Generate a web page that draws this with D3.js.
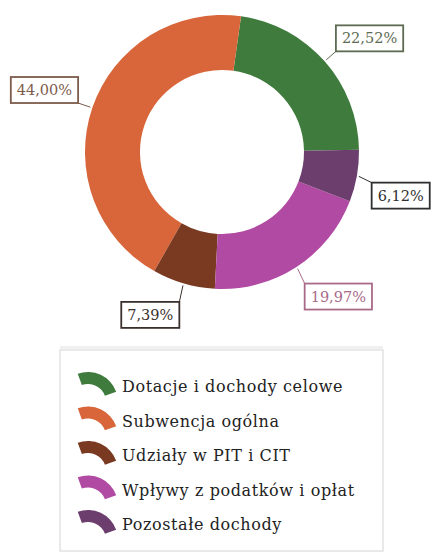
<!DOCTYPE html>
<html><head><meta charset="utf-8">
<script src="https://cdn.jsdelivr.net/npm/d3@7"></script>
<style>
html,body{margin:0;padding:0;background:#fff;}
svg{display:block;}
</style></head>
<body>
<svg id="chart" width="432" height="553"></svg>
<script>
// ---- data ----
const categories = ["Dotacje i dochody celowe","Subwencja ogólna","Udziały w PIT i CIT","Wpływy z podatków i opłat","Pozostałe dochody"];
const values = [22.52, 44.00, 7.39, 19.97, 6.12];
const pieOrder = ["Dotacje i dochody celowe","Pozostałe dochody","Wpływy z podatków i opłat","Udziały w PIT i CIT","Subwencja ogólna"];
const valueLabels = ["22,52%","44,00%","7,39%","19,97%","6,12%"];

// ---- styles ----
const colors = ["#3f7b3d","#d8663a","#7a3a22","#b04aa2","#6c3e6d"];
const labelColors = ["#5d6b52","#7d5c4c","#3a302c","#a86a88","#2f2f2f"];

const svg = d3.select("#chart");
const cx = 222, cy = 152, rOut = 137, rIn = 82;
const offset = 8 * Math.PI / 180;

const data = categories.map((c,i)=>({name:c, value:values[i], color:colors[i], lc:labelColors[i], label:valueLabels[i]}));

const pie = d3.pie().value(d=>d.value)
  .sort((a,b)=>pieOrder.indexOf(a.name)-pieOrder.indexOf(b.name))
  .startAngle(offset).endAngle(offset + 2*Math.PI);
const arcs = pie(data);
const arc = d3.arc().innerRadius(rIn).outerRadius(rOut);

const g = svg.append("g").attr("transform",`translate(${cx},${cy})`);
g.selectAll("path.slice").data(arcs).join("path")
  .attr("class","slice")
  .attr("d",arc)
  .attr("fill",d=>d.data.color);

// labels
const fontLbl = "'DejaVu Serif', 'Liberation Serif', serif";
arcs.forEach(a=>{
  const m = (a.startAngle + a.endAngle)/2;
  const p1 = [Math.sin(m)*(rOut+2), -Math.cos(m)*(rOut+2)];
  const p2 = [Math.sin(m)*(rOut+15), -Math.cos(m)*(rOut+15)];
  const right = Math.sin(m) > 0;
  const upper = Math.cos(m) > 0;
  const lg = g.append("g");
  lg.append("line").attr("x1",p1[0]).attr("y1",p1[1]).attr("x2",p2[0]).attr("y2",p2[1] + (upper?0:4))
    .attr("stroke",a.data.lc).attr("stroke-width",1);
  const t = lg.append("text").text(a.data.label)
    .attr("font-family",fontLbl).attr("font-size",14.5).attr("fill",a.data.lc);
  const w = t.node().getComputedTextLength() + 12;
  const h = 26;
  const bx = right ? p2[0] : p2[0]-w;
  const by = upper ? p2[1]-h : p2[1]+4;
  lg.insert("rect","text").attr("x",bx).attr("y",by).attr("width",w).attr("height",h)
    .attr("fill","#fff").attr("stroke",a.data.lc).attr("stroke-width",1.8);
  t.attr("x",bx+6).attr("y",by+h/2+5);
});

// legend
const lgX = 60, lgY = 350, lgW = 323, lgH = 201;
svg.append("rect").attr("x",lgX).attr("y",lgY-4).attr("width",lgW).attr("height",3).attr("fill","#f0f0f0");
svg.append("rect").attr("x",lgX).attr("y",lgY).attr("width",lgW).attr("height",lgH)
  .attr("fill","#fff").attr("stroke","#e2e2e2").attr("stroke-width",1.5);

const legendY = d3.scalePoint().domain(categories).range([386,524]);
const iconArc = d3.arc().innerRadius(18).outerRadius(30)
  .startAngle(-20*Math.PI/180).endAngle(70*Math.PI/180);
const li = svg.selectAll("g.li").data(data).join("g").attr("class","li")
  .attr("transform",d=>`translate(0,${legendY(d.name)})`);
li.append("path").attr("d",iconArc).attr("fill",d=>d.color)
  .attr("transform","translate(88,16)");
li.append("text").attr("x",122).attr("y",6).text(d=>d.name)
  .attr("font-family",fontLbl).attr("font-size",16).attr("letter-spacing",0.6).attr("fill","#222");
</script>
</body></html>
